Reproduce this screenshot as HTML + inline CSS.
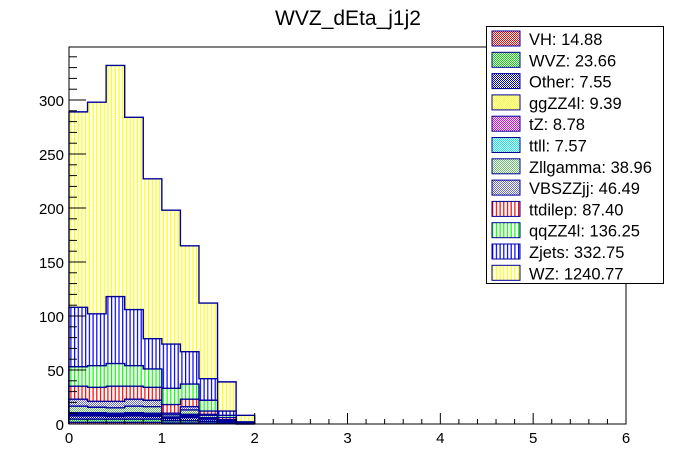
<!DOCTYPE html>
<html><head><meta charset="utf-8"><style>
html,body{margin:0;padding:0;background:#fff;}
svg{display:block;font-family:"Liberation Sans",Arial,sans-serif;}
</style></head><body>
<svg id="c" width="696" height="472" viewBox="0 0 696 472">
<defs>
<pattern id="vY" width="3.7" height="4" patternUnits="userSpaceOnUse"><rect width="3.7" height="4" fill="#fff"/><rect x="0" width="1.2" height="4" fill="#ffff00"/></pattern>
<pattern id="vB" width="3.7" height="4" patternUnits="userSpaceOnUse"><rect width="3.7" height="4" fill="#fff"/><rect x="0" width="1.2" height="4" fill="#0000ff"/></pattern>
<pattern id="vG" width="3.7" height="4" patternUnits="userSpaceOnUse"><rect width="3.7" height="4" fill="#fff"/><rect x="0" width="1.2" height="4" fill="#00ff00"/></pattern>
<pattern id="vR" width="3.7" height="4" patternUnits="userSpaceOnUse"><rect width="3.7" height="4" fill="#fff"/><rect x="0" width="1.2" height="4" fill="#ff0000"/></pattern>
<pattern id="xR" width="2" height="2" patternUnits="userSpaceOnUse"><rect width="2" height="2" fill="#fff"/><rect width="1" height="1" fill="#ff0000"/><rect x="1" y="1" width="1" height="1" fill="#ff0000"/></pattern>
<pattern id="xG" width="2" height="2" patternUnits="userSpaceOnUse"><rect width="2" height="2" fill="#fff"/><rect width="1" height="1" fill="#00dd00"/><rect x="1" y="1" width="1" height="1" fill="#00dd00"/></pattern>
<pattern id="xN" width="2" height="2" patternUnits="userSpaceOnUse"><rect width="2" height="2" fill="#fff"/><rect width="1" height="1" fill="#0000cc"/><rect x="1" y="1" width="1" height="1" fill="#0000cc"/></pattern>
<pattern id="xY" width="2" height="2" patternUnits="userSpaceOnUse"><rect width="2" height="2" fill="#fff"/><rect width="1" height="1" fill="#ffff00"/><rect x="1" y="1" width="1" height="1" fill="#ffff00"/></pattern>
<pattern id="xM" width="2" height="2" patternUnits="userSpaceOnUse"><rect width="2" height="2" fill="#fff"/><rect width="1" height="1" fill="#ee00ee"/><rect x="1" y="1" width="1" height="1" fill="#ee00ee"/></pattern>
<pattern id="xC" width="2" height="2" patternUnits="userSpaceOnUse"><rect width="2" height="2" fill="#fff"/><rect width="1" height="1" fill="#00eeee"/><rect x="1" y="1" width="1" height="1" fill="#00eeee"/></pattern>
<pattern id="xZ" width="2" height="2" patternUnits="userSpaceOnUse"><rect width="2" height="2" fill="#fff"/><rect width="1" height="1" fill="#66bb66"/><rect x="1" y="1" width="1" height="1" fill="#66bb66"/></pattern>
<pattern id="xV" width="2" height="2" patternUnits="userSpaceOnUse"><rect width="2" height="2" fill="#fff"/><rect width="1" height="1" fill="#6666cc"/><rect x="1" y="1" width="1" height="1" fill="#6666cc"/></pattern>
</defs>
<text x="348" y="25" text-anchor="middle" font-size="21">WVZ_dEta_j1j2</text>
<g id="bars"></g>
<rect x="69" y="47" width="557" height="377" fill="none" stroke="#000" stroke-width="1"/>
<g id="axes"></g>
<g id="legend"></g>
</svg>
<script>
const binEdges = [0,0.2,0.4,0.6,0.8,1.0,1.2,1.4,1.6,1.8,2.0];
const seriesNames = ["VH","WVZ","Other","ggZZ4l","tZ","ttll","Zllgamma","VBSZZjj","ttdilep","qqZZ4l","Zjets","WZ"];
const legendTotals = ["14.88","23.66","7.55","9.39","8.78","7.57","38.96","46.49","87.40","136.25","332.75","1240.77"];
const vVH = [1.5,1.5,1.5,1.5,1.5,1,1,1,0.5,0];
const vWVZ = [3,3,3,3,3,2,2,1.5,0.5,0.2];
const vOther = [3,3,2.5,3,2.5,2,3,2,1,0.2];
const vggZZ4l = [1,1,1,1,1,0.5,1,0.5,0.2,0];
const vtZ = [1,1,1,1,1,0.5,1,0.5,0.2,0];
const vttll = [1,1,1,1,1,0.5,1,0.5,0.2,0];
const vZllgamma = [6,5,5,6,6,2,4,2,1,0.3];
const vVBSZZjj = [6.5,5.5,6,6.5,6,1.5,3,1,0.4,0.3];
const vttdilep = [12,13,14,12,12,8,7,3,2,0];
const vqqZZ4l = [18,20,21,19,17,15,14,10,2,0];
const vZjets = [55,48,62,52,28,41,30,20,4,1];
const vWZ = [181,196,214,178,148,124,98,70,27,6];
const yTicks = [0,50,100,150,200,250,300];
const xTicks = [0,1,2,3,4,5,6];

const allVals = [vVH,vWVZ,vOther,vggZZ4l,vtZ,vttll,vZllgamma,vVBSZZjj,vttdilep,vqqZZ4l,vZjets,vWZ];
const fills = ["url(#xR)","url(#xG)","url(#xN)","url(#xY)","url(#xM)","url(#xC)","url(#xZ)","url(#xV)","url(#vR)","url(#vG)","url(#vB)","url(#vY)"];
const NS="http://www.w3.org/2000/svg";
const X0=69,X1=626,Y0=424,YPER=1.08;
const xs=v=>X0+(X1-X0)*v/6;
const ys=v=>Y0-v*YPER;
function mk(tag,attrs,parent){const e=document.createElementNS(NS,tag);for(const k in attrs)e.setAttribute(k,attrs[k]);parent.appendChild(e);return e;}
const bars=document.getElementById('bars');
const nb=binEdges.length-1;
const cum=new Array(nb).fill(0);
const tops=[];
allVals.forEach((vals,s)=>{
  for(let i=0;i<nb;i++)cum[i]+=vals[i];
  tops.push(cum.slice());
});
for(let s=allVals.length-1;s>=0;s--){
  const g=mk('g',{},bars);
  
  
  const t=tops[s];
  for(let i=0;i<nb;i++){
    if(t[i]<=0)continue;
    const r=mk('rect',{x:xs(binEdges[i]),y:ys(t[i]),width:xs(binEdges[i+1])-xs(binEdges[i]),height:Y0-ys(t[i]),fill:fills[s]},g);
    
    
  }
  let d='M'+xs(binEdges[0])+' '+Y0;
  for(let i=0;i<nb;i++){d+=' L'+xs(binEdges[i])+' '+ys(t[i])+' L'+xs(binEdges[i+1])+' '+ys(t[i]);}
  d+=' L'+xs(binEdges[nb])+' '+Y0;
  const p=mk('path',{d:d,fill:'none',stroke:'#000099','stroke-width':1.4},g);
  
  
}
const ax=document.getElementById('axes');
for(let v=0;v<=340;v+=10){
  const major=v%50===0;
  mk('line',{x1:X0,x2:X0+(major?17:8),y1:ys(v),y2:ys(v),stroke:'#000','stroke-width':1},ax);
}
yTicks.forEach(v=>{
  const t=mk('text',{x:X0-5,y:ys(v)+6,'text-anchor':'end','font-size':15},ax);
  t.textContent=v;
  
  
});
for(let k=0;k<=30;k++){
  const v=k*0.2,major=k%5===0;
  mk('line',{x1:xs(v),x2:xs(v),y1:Y0,y2:Y0-(major?11:5),stroke:'#000','stroke-width':1},ax);
}
xTicks.forEach(v=>{
  const t=mk('text',{x:xs(v),y:Y0+19,'text-anchor':'middle','font-size':15},ax);
  t.textContent=v;
  
  
});
const lg=document.getElementById('legend');
mk('rect',{x:486.5,y:26.5,width:177,height:257,fill:'#fff',stroke:'#000','stroke-width':1},lg);
seriesNames.forEach((n,s)=>{
  const yy=31+s*21.3;
  const e=mk('g',{},lg);
  
  
  mk('rect',{x:492,y:yy,width:28,height:15,fill:fills[s],stroke:'#000099','stroke-width':1},e);
  const t=mk('text',{x:529,y:yy+14,'font-size':16.5},e);
  t.textContent=n+': '+legendTotals[s];
});
</script>
</body></html>
